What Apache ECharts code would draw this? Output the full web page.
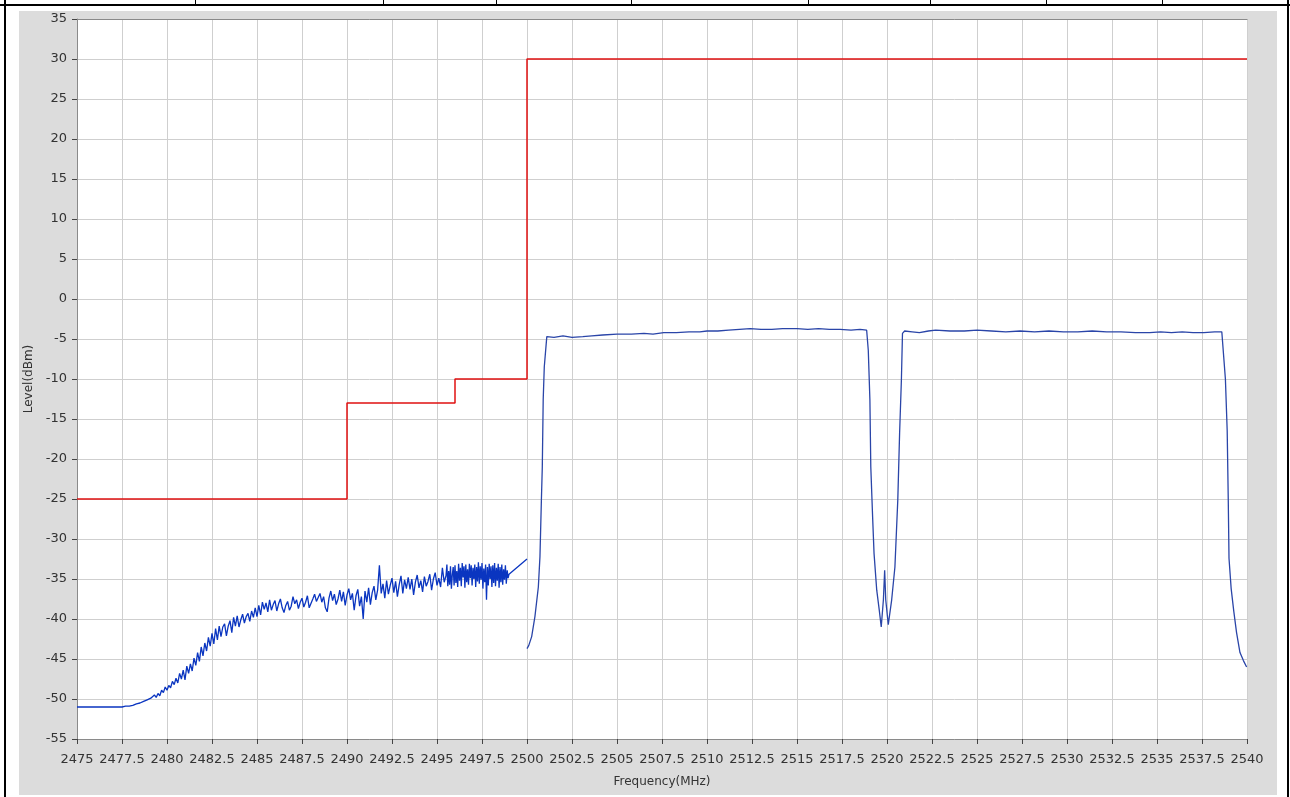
<!DOCTYPE html>
<html>
<head>
<meta charset="utf-8">
<script src="https://cdn.jsdelivr.net/npm/echarts@6/dist/echarts.min.js"></script>
<style>
html,body{margin:0;padding:0;background:#fff;}
#chart{width:1290px;height:797px;}
</style>
</head>
<body>
<div id="chart"></div>
<script>
// ---- data ----
var xTickMin = 2475, xTickMax = 2540, xTickStep = 2.5;
var yTickMin = -55, yTickMax = 35, yTickStep = 5;

// limit mask (red)
var limitFreq  = [2475, 2490, 2490, 2496, 2496, 2500, 2500, 2540];
var limitLevel = [-25, -25, -13, -13, -10, -10, 30, 30];

// out-of-band noise trace (blue), head points
var headFreq  = [2475, 2476, 2477];
var headLevel = [-51.0, -51.0, -51.0];
// noise samples starting at 2477.5 MHz, spaced 0.1 MHz
var noiseAStart = 2477.5, noiseAStep = 0.1;
var noiseALevel = [
 -51.0,-51.0,-50.9,-50.9,-50.9,-50.8,-50.8,-50.7,-50.6,-50.7,
 -50.5,-50.6,-50.3,-50.4,-50.1,-50.3,-49.9,-50.0,-49.5,-49.8,
 -49.3,-49.6,-48.9,-49.2,-48.5,-48.9,-48.3,-48.6,-47.8,-48.2,
 -47.4,-48.0,-46.8,-47.5,-46.4,-47.6,-45.9,-46.8,-45.6,-46.5,
 -44.9,-45.8,-44.2,-45.3,-43.5,-44.6,-43.0,-44.0,-42.3,-43.4,
 -41.8,-43.1,-41.2,-42.6,-40.9,-42.2,-41.0,-40.6,-42.1,-40.9,
 -40.2,-41.7,-39.8,-40.9,-39.6,-41.0,-40.1,-39.4,-40.5,-39.7,
 -39.3,-40.3,-39.0,-39.8,-38.6,-39.7,-38.3,-39.5,-37.9,-38.8,
 -38.0,-39.1,-37.6,-38.9,-38.2,-37.7,-39.0,-38.1,-37.5,-38.6,
 -39.2,-38.3,-37.8,-38.9,-38.4,-37.2,-38.1,-37.6,-38.7,-37.9,
 -37.4,-38.5,-37.9,-37.1,-38.6,-38.8,-37.5,-36.9,-37.8,-37.3,
 -36.8,-37.9,-37.2,-38.6,-39.1,-37.4,-36.5,-37.7,-36.9,-38.2,
 -37.5,-36.4,-37.8,-36.6,-38.3,-37.0,-36.2,-37.6,-36.8,-38.9,
 -37.1,-36.3,-38.4,-37.2,-40.0,-36.5,-37.9,-36.1,-38.2,-36.7,
 -35.9,-37.6,-36.4,-33.3,-36.8,-35.6,-37.4,-35.2,-36.9,-35.8,
 -34.9,-36.7,-35.3,-37.2,-35.7,-34.6,-36.8,-35.1,-36.2,-34.8,
 -36.3,-35.0,-37.0,-35.4,-34.5,-36.1,-35.2,-36.6,-34.7,-35.9,
 -35.3,-34.4,-36.4,-35.0,-34.2,-35.8,-34.9,-36.0,-33.6,-35.4
];
// denser noise samples starting at 2495.5 MHz, spaced 0.05 MHz
var noiseBStart = 2495.5, noiseBStep = 0.05;
var noiseBLevel = [
 -34.6,-33.2,-35.9,-34.0,-35.7,-33.4,-36.2,-34.5,-33.5,-35.8,
 -33.3,-35.5,-34.0,-36.0,-33.1,-35.2,-33.6,-35.9,-33.0,-34.8,
 -33.4,-36.1,-33.2,-35.4,-33.8,-35.7,-33.1,-34.9,-33.3,-35.8,
 -33.6,-35.0,-33.2,-36.0,-33.5,-35.3,-32.9,-35.6,-33.4,-35.1,
 -33.0,-36.2,-33.7,-35.4,-33.2,-37.6,-33.5,-35.8,-33.1,-35.0,
 -33.4,-36.0,-33.3,-35.5,-33.0,-35.9,-33.6,-35.2,-33.1,-36.1,
 -33.5,-35.4,-33.2,-35.7,-33.8,-35.1,-33.3,-35.6,-33.9,-34.9,
 -34.4
];
var tailFreq  = [2500.0];
var tailLevel = [-32.5];

// in-band trace (blue)
var bandFreq = [
 2500.0,2500.1,2500.26,2500.44,2500.63,2500.72,2500.8,2500.85,2500.9,2500.96,
 2501.1,2501.5,2502.0,2502.5,2503.1,2503.6,2504.2,2505.0,2505.8,2506.5,
 2507.0,2507.6,2508.3,2509.0,2509.6,2510.0,2510.6,2511.2,2511.8,2512.4,
 2513.0,2513.6,2514.2,2515.0,2515.6,2516.2,2516.8,2517.4,2518.0,2518.5,
 2518.87,2518.96,2519.05,2519.1,2519.2,2519.28,2519.43,2519.57,2519.68,2519.8,
 2519.87,2519.93,2520.07,2520.26,2520.44,2520.6,2520.7,2520.8,2520.86,2520.98,
 2521.4,2521.8,2522.3,2522.7,2523.5,2524.3,2525.0,2525.8,2526.6,2527.4,
 2528.2,2529.0,2529.8,2530.6,2531.4,2532.2,2533.0,2533.8,2534.6,2535.2,
 2535.8,2536.4,2537.0,2537.6,2538.2,2538.6,2538.67,2538.8,2538.9,2538.96,
 2539.0,2539.12,2539.27,2539.42,2539.61,2539.8,2539.98
];
var bandLevel = [
 -43.7,-43.3,-42.2,-39.7,-36.0,-32.2,-25.1,-21.0,-12.6,-8.5,
 -4.7,-4.8,-4.6,-4.8,-4.7,-4.6,-4.5,-4.4,-4.4,-4.3,
 -4.4,-4.2,-4.2,-4.1,-4.1,-4.0,-4.0,-3.9,-3.8,-3.7,
 -3.8,-3.8,-3.7,-3.7,-3.8,-3.7,-3.8,-3.8,-3.9,-3.8,
 -3.9,-6.4,-12.6,-21.0,-27.2,-31.8,-36.4,-38.9,-41.0,-37.6,
 -33.9,-37.6,-40.7,-37.6,-33.5,-25.1,-16.8,-10.1,-4.3,-4.0,
 -4.1,-4.2,-4.0,-3.9,-4.0,-4.0,-3.9,-4.0,-4.1,-4.0,
 -4.1,-4.0,-4.1,-4.1,-4.0,-4.1,-4.1,-4.2,-4.2,-4.1,
 -4.2,-4.1,-4.2,-4.2,-4.1,-4.1,-4.3,-10.0,-16.5,-25.3,
 -32.4,-36.2,-39.1,-41.7,-44.2,-45.2,-46.0
];

var xAxisName = 'Frequency(MHz)';
var yAxisName = 'Level(dBm)';

// ---- build series data ----
function zip(a, b) { var r = []; for (var i = 0; i < a.length; i++) r.push([a[i], b[i]]); return r; }
var noiseData = zip(headFreq, headLevel);
for (var i = 0; i < noiseALevel.length; i++) {
  noiseData.push([+(noiseAStart + i * noiseAStep).toFixed(3), noiseALevel[i]]);
}
for (var j = 0; j < noiseBLevel.length; j++) {
  noiseData.push([+(noiseBStart + j * noiseBStep).toFixed(3), noiseBLevel[j]]);
}
noiseData = noiseData.concat(zip(tailFreq, tailLevel));
var bandData = zip(bandFreq, bandLevel);
var limitData = zip(limitFreq, limitLevel);

var FONT = 'DejaVu Sans';
var chart = echarts.init(document.getElementById('chart'), null, {renderer: 'canvas'});
chart.setOption({
  animation: false,
  backgroundColor: '#ffffff',
  textStyle: {fontFamily: FONT},
  graphic: [
    {type: 'rect', z: -100, silent: true, shape: {x: 19, y: 11, width: 1258, height: 784}, style: {fill: '#dcdcdc'}},
    {type: 'rect', z: -99, silent: true, shape: {x: 77, y: 19, width: 1170, height: 720}, style: {fill: '#ffffff'}},
    {type: 'rect', z: 100, silent: true, shape: {x: 0, y: 4, width: 1290, height: 2}, style: {fill: '#000'}},
    {type: 'rect', z: 100, silent: true, shape: {x: 4, y: 0, width: 2, height: 797}, style: {fill: '#000'}},
    {type: 'rect', z: 100, silent: true, shape: {x: 1287, y: 0, width: 2, height: 797}, style: {fill: '#000'}},
    {type: 'rect', z: 100, silent: true, shape: {x: 195, y: 0, width: 1, height: 5}, style: {fill: '#000'}},
    {type: 'rect', z: 100, silent: true, shape: {x: 383, y: 0, width: 1, height: 5}, style: {fill: '#000'}},
    {type: 'rect', z: 100, silent: true, shape: {x: 496, y: 0, width: 1, height: 5}, style: {fill: '#000'}},
    {type: 'rect', z: 100, silent: true, shape: {x: 631, y: 0, width: 1, height: 5}, style: {fill: '#000'}},
    {type: 'rect', z: 100, silent: true, shape: {x: 808, y: 0, width: 1, height: 5}, style: {fill: '#000'}},
    {type: 'rect', z: 100, silent: true, shape: {x: 930, y: 0, width: 1, height: 5}, style: {fill: '#000'}},
    {type: 'rect', z: 100, silent: true, shape: {x: 1046, y: 0, width: 1, height: 5}, style: {fill: '#000'}},
    {type: 'rect', z: 100, silent: true, shape: {x: 1162, y: 0, width: 1, height: 5}, style: {fill: '#000'}}
  ],
  grid: {left: 77, top: 19, width: 1170, height: 720, containLabel: false, show: false},
  xAxis: [{
    type: 'value', min: xTickMin, max: xTickMax, interval: xTickStep,
    name: xAxisName, nameLocation: 'middle', nameGap: 37,
    nameTextStyle: {fontFamily: FONT, fontSize: 12, color: '#333'},
    axisLine: {show: true, onZero: false, lineStyle: {color: '#8a8a8a', width: 1}},
    axisTick: {show: true, length: 5, lineStyle: {color: '#444'}},
    axisLabel: {fontFamily: FONT, fontSize: 13, color: '#333', margin: 14,
      formatter: function (v) { return String(v); }},
    splitLine: {show: true, lineStyle: {color: '#cfcfcf', width: 1}}
  }, {
    type: 'value', position: 'top', min: xTickMin, max: xTickMax,
    axisLine: {show: true, onZero: false, lineStyle: {color: '#8a8a8a', width: 1}},
    axisTick: {show: false}, axisLabel: {show: false}, splitLine: {show: false}
  }],
  yAxis: {
    type: 'value', min: yTickMin, max: yTickMax, interval: yTickStep,
    name: yAxisName, nameLocation: 'middle', nameGap: 42, nameRotate: 90,
    nameTextStyle: {fontFamily: FONT, fontSize: 12, color: '#333'},
    axisLine: {show: true, onZero: false, lineStyle: {color: '#8a8a8a', width: 1}},
    axisTick: {show: true, length: 5, lineStyle: {color: '#444'}},
    axisLabel: {fontFamily: FONT, fontSize: 13, color: '#333', margin: 10},
    splitLine: {show: true, lineStyle: {color: '#cfcfcf', width: 1}}
  },
  series: [
    {type: 'line', name: 'limit', data: limitData, showSymbol: false, symbol: 'none',
      lineStyle: {color: '#e01010', width: 1.5}, z: 3},
    {type: 'line', name: 'noise', data: noiseData, showSymbol: false, symbol: 'none',
      lineStyle: {color: '#0a35c0', width: 1.3}, z: 4},
    {type: 'line', name: 'band', data: bandData, showSymbol: false, symbol: 'none',
      lineStyle: {color: '#2a45a8', width: 1.3}, z: 4}
  ]
});
</script>
</body>
</html>
